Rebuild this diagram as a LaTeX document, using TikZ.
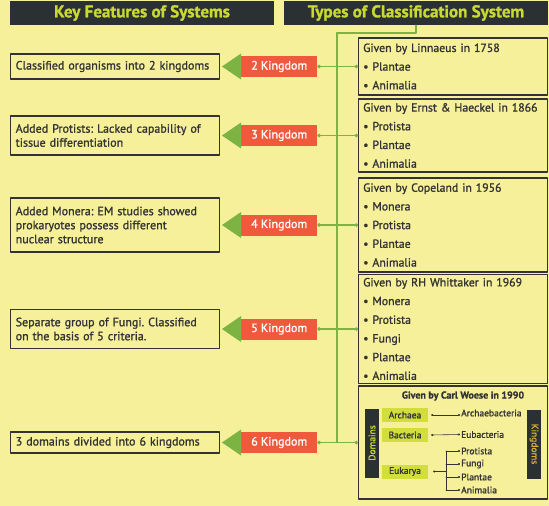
\documentclass[tikz,border=0pt]{standalone}
\usepackage{fontspec}
\setmainfont{PT Sans}[RawFeature={embolden=1.2}]
\usetikzlibrary{positioning, arrows.meta}

\definecolor{paper}{HTML}{F7F09B}
\definecolor{headdark}{HTML}{2B3033}
\definecolor{headtext}{HTML}{C8DA32}
\definecolor{kingred}{HTML}{F05A3C}
\definecolor{leafgreen}{HTML}{7CB342}
\definecolor{boxline}{HTML}{333333}
\definecolor{domgreen}{HTML}{D2DE3C}
\definecolor{kinggold}{HTML}{D9AE35}

\frenchspacing
\begin{document}
\begin{tikzpicture}[x=1pt, y=-1pt, line cap=round, line join=round,
    header/.style={fill=headdark, text=headtext, font=\fontsize{17}{19}\selectfont\bfseries,
      minimum width=264pt, minimum height=24pt, inner sep=0pt},
    feature/.style={draw=boxline, line width=1.4pt, text=boxline, align=left,
      font=\fontsize{12}{14}\selectfont, text width=199pt, inner xsep=5pt, anchor=west},
    kingdom/.style={fill=kingred, text=white, font=\fontsize{12}{14}\selectfont,
      minimum width=76pt, minimum height=21pt, inner sep=0pt, anchor=west},
    system/.style={draw=boxline, line width=1.4pt, text=boxline, align=left,
      font=\fontsize{11.8}{18.7}\selectfont, text width=180pt, inner xsep=4.5pt, anchor=west},
    link/.style={leafgreen, line width=1.2pt, {Circle[length=3.5pt]}-{Circle[length=3.5pt]}},
    trunk/.style={leafgreen, line width=1.2pt},
    dombox/.style={fill=domgreen, text=boxline, font=\fontsize{9.5}{11}\selectfont,
      minimum width=46pt, minimum height=14pt, inner sep=0pt},
    sidebar/.style={fill=headdark, font=\fontsize{9.5}{11}\selectfont,
      minimum width=69pt, minimum height=14pt, inner sep=0pt},
    kname/.style={text=boxline, font=\fontsize{9.5}{11}\selectfont, inner sep=1pt, anchor=west},
    twig/.style={boxline, line width=0.6pt}]

    % background
    \fill[paper] (0,0) rectangle (549,506);
    \useasboundingbox (0,0) rectangle (549,506);

    % headers
    \node[header] (keys) at (142,13) {Key Features of Systems};
    \node[header] (types) at (416,13) {Types of Classification System};

    % key features (left column)
    \node[feature, minimum height=25pt] (feat1) at (10,66.5) {Classified organisms into 2 kingdoms};
    \node[feature, minimum height=39pt] (feat2) at (10,135.5) {Added Protists: Lacked capability of\\ tissue differentiation};
    \node[feature, minimum height=54pt] (feat3) at (10,225) {Added Monera: EM studies showed\\ prokaryotes possess different\\ nuclear structure};
    \node[feature, minimum height=39pt] (feat4) at (10,329) {Separate group of Fungi. Classified\\ on the basis of 5 criteria.};
    \node[feature, minimum height=21pt] (feat5) at (10,442.5) {3 domains divided into 6 kingdoms};

    % kingdom labels
    \node[kingdom] (k2) at (241,66.5) {2 Kingdom};
    \node[kingdom] (k3) at (241,135.5) {3 Kingdom};
    \node[kingdom] (k4) at (241,225) {4 Kingdom};
    \node[kingdom] (k5) at (241,329) {5 Kingdom};
    \node[kingdom] (k6) at (241,442.5) {6 Kingdom};

    % green pointers
    \foreach \k in {k2,k3,k4,k5,k6}
      \fill[leafgreen] (\k.west) ++(0,-13) -- ++(-19,13) -- ++(19,13) -- cycle;

    % systems (right column)
    \node[system, minimum height=57pt] (sys1) at (358,66.5) {Given by Linnaeus in 1758\\ \textbullet\ Plantae\\ \textbullet\ Animalia};
    \node[system, minimum height=73pt] (sys2) at (358,135.5) {\mbox{Given by Ernst \& Haeckel in 1866}\\ \textbullet\ Protista\\ \textbullet\ Plantae\\ \textbullet\ Animalia};
    \node[system, minimum height=94pt] (sys3) at (358,225) {Given by Copeland in 1956\\ \textbullet\ Monera\\ \textbullet\ Protista\\ \textbullet\ Plantae\\ \textbullet\ Animalia};
    \node[system, minimum height=108pt] (sys4) at (358,329) {Given by RH Whittaker in 1969\\ \textbullet\ Monera\\ \textbullet\ Protista\\ \textbullet\ Fungi\\ \textbullet\ Plantae\\ \textbullet\ Animalia};
    \node[system, minimum height=113pt, minimum width=189pt] (sys5) at (358,442.5) {};

    % spine
    \coordinate (spine) at (337,33);
    \draw[trunk] (types.south) |- (spine) -- (spine |- k6.east);

    % links
    \draw[link] (k2.east) -- (sys1.west);
    \draw[link] (k3.east) -- (sys2.west);
    \draw[link] (k4.east) -- (sys3.west);
    \draw[link] (k5.east) -- (sys4.west);
    \draw[link] (k6.east) -- (sys5.west);

    % Woese: three domains
    \node[text=boxline, font=\fontsize{10}{12}\selectfont\bfseries] (woese) at (463,396) {Given by Carl Woese in 1990};
    \node[sidebar, text=headtext, rotate=90] (domains) at (372,443) {Domains};
    \node[sidebar, text=kinggold, rotate=-90] (kingdoms) at (534,444) {Kingdoms};
    \node[dombox] (archaea) at (405,415) {Archaea};
    \node[dombox] (bacteria) at (405,435) {Bacteria};
    \node[dombox] (eukarya) at (405,471.5) {Eukarya};

    \node[kname] (archaeb) at (460,413) {Archaebacteria};
    \node[kname] (eubac) at (460,434.5) {Eubacteria};
    \node[kname] (protista) at (460,451) {Protista};
    \node[kname] (fungi) at (460,464) {Fungi};
    \node[kname] (plantae) at (460,477) {Plantae};
    \node[kname] (animalia) at (460,490) {Animalia};

    \draw[twig, {Circle[length=2pt]}-{Circle[length=2pt]}] ([xshift=3pt]archaea.east) -- (archaea.east -| archaeb.west);
    \draw[twig, {Circle[length=2pt]}-{Circle[length=2pt]}] ([xshift=3pt]bacteria.east) -- (eubac.west);
    \coordinate (fork) at (446,471.5);
    \draw[twig, {Circle[length=2pt]}-] ([xshift=5pt]eukarya.east) -- (fork);
    \draw[twig] (fork |- protista.west) -- (fork |- animalia.west);
    \foreach \k in {protista,fungi,plantae,animalia}
      \draw[twig, -{Circle[length=2pt]}] (fork |- \k.west) -- (\k.west);
\end{tikzpicture}
\end{document}
